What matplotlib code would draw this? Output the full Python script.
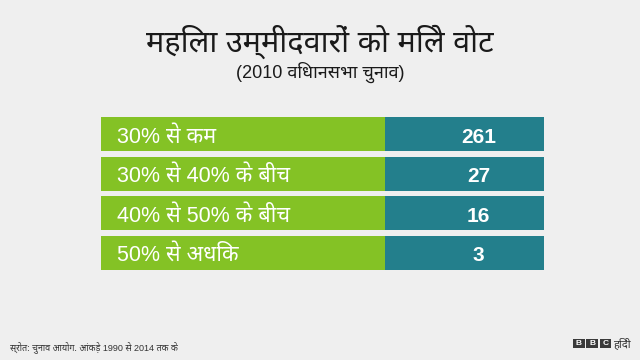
import matplotlib
matplotlib.use("Agg")
import matplotlib.pyplot as plt
from matplotlib.patches import Rectangle

# ---- data ----
title = "महिला उम्मीदवारों को मिले वोट"
subtitle = "(2010 विधानसभा चुनाव)"
categories = ["30% से कम", "30% से 40% के बीच", "40% से 50% के बीच", "50% से अधिक"]
counts = [261, 27, 16, 3]
source = "स्रोत: चुनाव आयोग. आंकड़े 1990 से 2014 तक के"
brand = "हिंदी"

# ---- style ----
BG = "#efefef"
GREEN = "#84c225"
TEAL = "#237f8c"
FAM = ['Liberation Sans', 'Noto Sans', 'DejaVu Sans']
plt.rcParams['font.family'] = FAM

fig = plt.figure(figsize=(6.4, 3.6), dpi=100, facecolor=BG)

ax = fig.add_axes([101/640, 1-270/360, 443/640, 153/360])
ax.set_facecolor(BG)
n = len(categories)
ys = list(range(n))
split = 0.641
bh = 0.873
ax.barh(ys, [split]*n, height=bh, left=0, color=GREEN, edgecolor='none')
ax.barh(ys, [1-split]*n, height=bh, left=split, color=TEAL, edgecolor='none')
ax.set_xlim(0, 1)
ax.set_ylim(n-1+bh/2, -bh/2)
ax.axis('off')
for y, lab, c in zip(ys, categories, counts):
    ax.text(0.037, y + 0.21, lab, color='white', fontsize=15.5,
            va='baseline', ha='left')
    ax.text(0.852, y + 0.21, str(c), color='white', fontsize=15, fontweight='bold',
            va='baseline', ha='center')

fig.text(0.5, 1-52/360, title, ha='center', va='baseline', fontsize=22, color='#1a1a1a')
fig.text(0.5, 1-78/360, subtitle, ha='center', va='baseline', fontsize=13, color='#1a1a1a')
fig.text(10/640, 1-347/360, source, ha='left', va='center', fontsize=6.5, color='#333333')

# BBC logo
for i, ch in enumerate("BBC"):
    x0 = (573 + i*13.3)/640
    fig.patches.append(Rectangle((x0, 1-348/360), 11.5/640, 9/360, transform=fig.transFigure,
                                 facecolor='#3a3a3a', edgecolor='none'))
    fig.text(x0 + 5.75/640, 1-343.5/360, ch, ha='center', va='center', fontsize=6,
             color='white', fontweight='bold')
fig.text(613/640, 1-343.5/360, brand, ha='left', va='center', fontsize=8, color='#333333')

fig.savefig("out.png", dpi=100, facecolor=BG)
